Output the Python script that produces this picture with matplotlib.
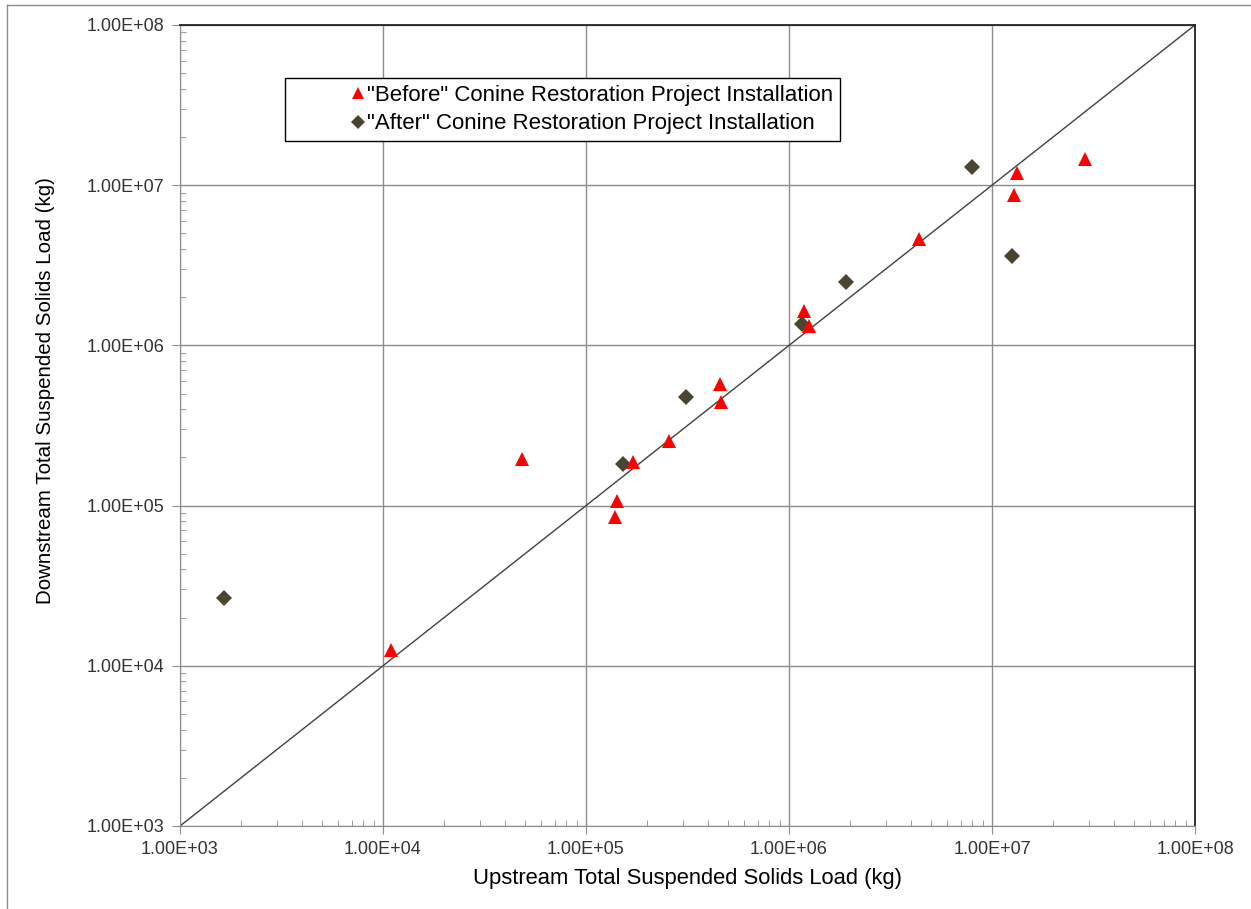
import matplotlib
matplotlib.use('Agg')
import matplotlib.pyplot as plt
import matplotlib.ticker as mticker
from matplotlib.lines import Line2D
import numpy as np

plt.rcParams['font.family'] = ['Liberation Sans', 'DejaVu Sans']

# "Before" installation (upstream, downstream) loads in kg
before_up = [1.09e4, 4.84e4, 1.42e5, 1.39e5, 1.71e5, 2.56e5, 4.57e5, 4.6e5,
             1.19e6, 1.26e6, 4.37e6, 1.33e7, 1.29e7, 2.87e7]
before_down = [1.26e4, 1.95e5, 1.07e5, 8.5e4, 1.87e5, 2.53e5, 5.74e5, 4.43e5,
               1.64e6, 1.32e6, 4.61e6, 1.19e7, 8.69e6, 1.46e7]

# "After" installation
after_up = [1.65e3, 1.52e5, 3.11e5, 1.16e6, 1.91e6, 7.97e6, 1.26e7]
after_down = [2.65e4, 1.82e5, 4.76e5, 1.36e6, 2.49e6, 1.30e7, 3.61e6]

limits = [1e3, 1e8]

fig = plt.figure(figsize=(12.51, 9.09), dpi=100)
ax = fig.add_axes([180 / 1251, 1 - 826 / 909, 1015 / 1251, 801 / 909])

ax.set_xscale('log')
ax.set_yscale('log')
ax.set_xlim(limits)
ax.set_ylim(limits)

ax.grid(True, which='major', color='#8c8c8c', lw=1)
ax.plot(limits, limits, color='#404040', lw=1, zorder=2)

ax.plot(before_up, before_down, linestyle='none', marker='^', markersize=10,
        color='#ff0000', markeredgewidth=0, zorder=4,
        label='"Before" Conine Restoration Project Installation')
ax.plot(after_up, after_down, linestyle='none', marker='D', markersize=8,
        color='#4a4530', markeredgewidth=0, zorder=3,
        label='"After" Conine Restoration Project Installation')

fmt = mticker.FuncFormatter(lambda v, p: f'{v:.2E}')
ax.xaxis.set_major_formatter(fmt)
ax.yaxis.set_major_formatter(fmt)
ax.xaxis.set_major_locator(mticker.LogLocator(base=10, numticks=10))
ax.yaxis.set_major_locator(mticker.LogLocator(base=10, numticks=10))
ax.xaxis.set_minor_locator(mticker.LogLocator(base=10, subs=np.arange(2, 10), numticks=20))
ax.yaxis.set_minor_locator(mticker.LogLocator(base=10, subs=np.arange(2, 10), numticks=20))
ax.xaxis.set_minor_formatter(mticker.NullFormatter())
ax.yaxis.set_minor_formatter(mticker.NullFormatter())

ax.tick_params(which='major', direction='out', length=6, color='#8c8c8c',
               labelsize=13, labelcolor='#333333', pad=5)
ax.tick_params(which='minor', direction='in', length=4, color='#8c8c8c')

for s in ['left', 'bottom']:
    ax.spines[s].set_color('#8c8c8c')
for s in ['top', 'right']:
    ax.spines[s].set_color('#222222')
    ax.spines[s].set_linewidth(1.3)

ax.set_xlabel('Upstream Total Suspended Solids Load (kg)', fontsize=15.8)
ax.set_ylabel('Downstream Total Suspended Solids Load (kg)', fontsize=14.8)
ax.xaxis.set_label_coords(0.5, -0.052)
ax.yaxis.set_label_coords(-0.123, 0.544)

leg = ax.legend(loc='upper left', bbox_to_anchor=(105 / 1015, 1 - 53 / 801),
                fontsize=16, frameon=True, fancybox=False, edgecolor='black',
                handletextpad=-2.6, borderpad=0.3, labelspacing=0.35,
                handlelength=6.0, borderaxespad=0, markerscale=0.9)
leg.get_frame().set_linewidth(1)
leg.get_frame().set_alpha(1)

# outer chart-area border (top and left edges visible)
fig.add_artist(Line2D([7 / 1251, 1], [1 - 5 / 909, 1 - 5 / 909], color='#8c8c8c', lw=1))
fig.add_artist(Line2D([7 / 1251, 7 / 1251], [0, 1 - 5 / 909], color='#8c8c8c', lw=1))

fig.savefig('out.png', dpi=100)
